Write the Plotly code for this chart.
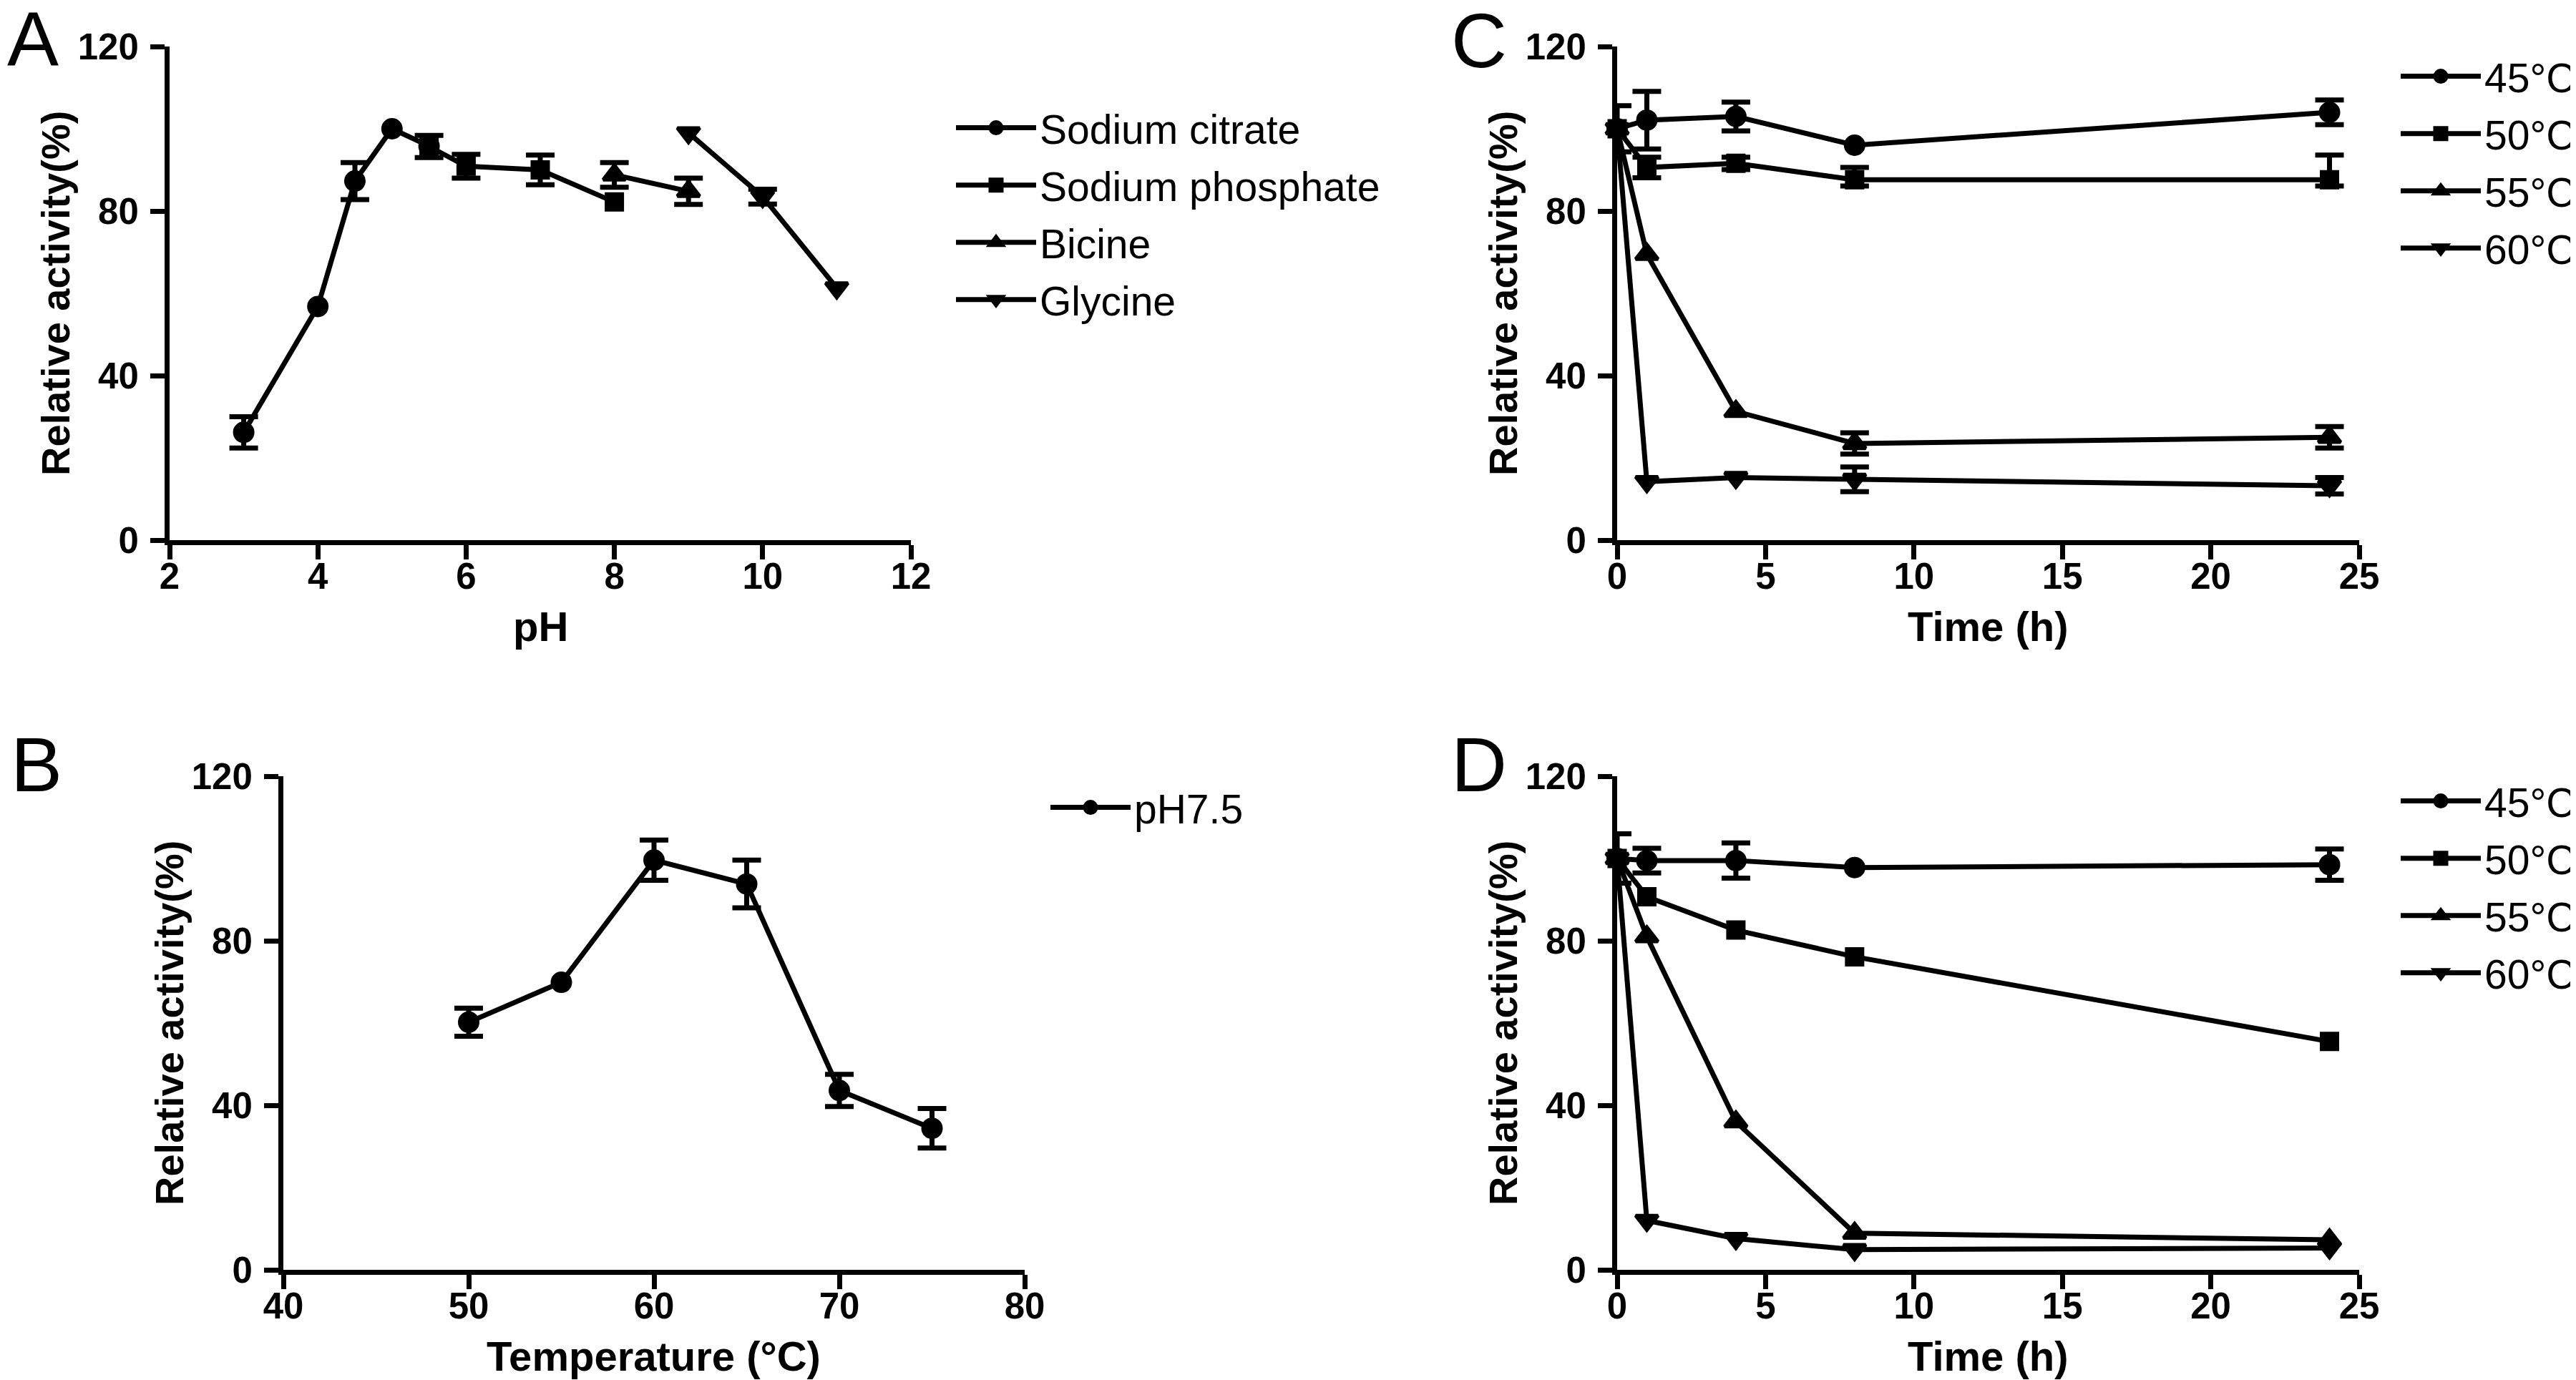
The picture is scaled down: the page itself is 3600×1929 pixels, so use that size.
import plotly.graph_objects as go

W, H = 3600, 1929

# ---------------- data ----------------
# Panel A: pH profile
ph_citrate_x = [3, 4, 4.5, 5, 5.5]
ph_citrate_y = [26.2, 56.8, 87.3, 100.0, 95.8]
ph_citrate_err = [3.8, 0, 4.5, 0, 0]
ph_phosphate_x = [5.5, 6, 7, 8]
ph_phosphate_y = [95.7, 90.9, 90.0, 82.2]
ph_phosphate_err = [2.7, 2.9, 3.6, 0]
ph_bicine_x = [8, 9]
ph_bicine_y = [88.8, 84.8]
ph_bicine_err = [3.0, 3.2]
ph_glycine_x = [9, 10, 11]
ph_glycine_y = [99.0, 83.5, 61.3]
ph_glycine_err = [0, 1.8, 0]

# Panel B: temperature profile
temp_x = [50, 55, 60, 65, 70, 75]
temp_y = [60.2, 69.9, 99.6, 93.8, 43.6, 34.4]
temp_err = [3.4, 0, 4.9, 5.8, 3.9, 4.8]

# Panels C / D: stability over time
time_h = [0, 1, 4, 8, 24]
c_45 = [100, 102.1, 103.0, 96.0, 104.0]
c_45_err = [5.6, 7.0, 3.5, 0, 3.0]
c_50 = [100, 90.6, 91.6, 87.6, 87.6]
c_50_err = [0, 2.5, 1.5, 3.0, 6.0]
c_50_err_minus = [0, 2.5, 1.5, 1.5, 1.5]
c_55 = [100, 69.5, 31.3, 23.5, 25.0]
c_55_err = [0, 0, 0, 2.6, 2.6]
c_60 = [100, 14.2, 15.2, 14.8, 13.2]
c_60_err = [0, 0, 0, 3.0, 2.0]

d_45 = [100, 99.5, 99.5, 97.8, 98.5]
d_45_err = [6.0, 3.0, 4.3, 0, 3.8]
d_50 = [100, 90.7, 82.6, 76.1, 55.5]
d_50_err = [0, 0, 0, 0, 0]
d_55 = [100, 81.0, 36.0, 8.9, 7.3]
d_55_err = [0, 0, 0, 0, 0]
d_60 = [100, 12.0, 7.6, 4.9, 5.3]
d_60_err = [0, 0, 0, 0, 0]

temp_labels = ["45°C", "50°C", "55°C", "60°C"]
y_ticks = [0, 40, 80, 120]

# ---------------- style ----------------
LW = 7
SANS = "Liberation Sans, Arial, sans-serif"
SYM = {"circle": 25, "square": 22, "triangle-up": 27, "triangle-down": 27}

fig = go.Figure()


def add_series(x, y, err, symbol, name, xa, ya, legend, err_minus=None):
    if err_minus is None:
        err_minus = err
    keep = [i for i, e in enumerate(err) if e > 0]
    if keep:
        fig.add_trace(go.Scatter(
            x=[x[i] for i in keep], y=[y[i] for i in keep], mode="markers",
            xaxis=xa, yaxis=ya,
            marker=dict(size=2, color="rgba(0,0,0,0)"),
            error_y=dict(type="data", array=[err[i] for i in keep],
                         arrayminus=[err_minus[i] for i in keep], symmetric=False,
                         visible=True, color="black", thickness=LW, width=20),
            showlegend=False, hoverinfo="skip", cliponaxis=False))
    fig.add_trace(go.Scatter(
        x=x, y=y, mode="lines+markers", name=name, xaxis=xa, yaxis=ya,
        line=dict(color="black", width=LW),
        marker=dict(symbol=symbol, size=SYM[symbol], color="black",
                    line=dict(color="black", width=5)),
        legend=legend, legendgroup=legend + name, cliponaxis=False))


add_series(ph_citrate_x, ph_citrate_y, ph_citrate_err, "circle", "Sodium citrate", "x", "y", "legend")
add_series(ph_phosphate_x, ph_phosphate_y, ph_phosphate_err, "square", "Sodium phosphate", "x", "y", "legend")
add_series(ph_bicine_x, ph_bicine_y, ph_bicine_err, "triangle-up", "Bicine", "x", "y", "legend")
add_series(ph_glycine_x, ph_glycine_y, ph_glycine_err, "triangle-down", "Glycine", "x", "y", "legend")

add_series(temp_x, temp_y, temp_err, "circle", "pH7.5", "x2", "y2", "legend2")

symbols = ["circle", "square", "triangle-up", "triangle-down"]
c_minus = [c_45_err, c_50_err_minus, c_55_err, c_60_err]
for lab, yy, ee, em, s in zip(temp_labels, [c_45, c_50, c_55, c_60],
                              [c_45_err, c_50_err, c_55_err, c_60_err], c_minus, symbols):
    add_series(time_h, yy, ee, s, lab, "x3", "y3", "legend3", err_minus=em)
for lab, yy, ee, s in zip(temp_labels, [d_45, d_50, d_55, d_60],
                          [d_45_err, d_50_err, d_55_err, d_60_err], symbols):
    add_series(time_h, yy, ee, s, lab, "x4", "y4", "legend4")


def px_x(p):
    return p / W


def px_y(p):
    return 1 - p / H


tickfont = dict(family=SANS, size=51, color="black", weight="bold")
axis_common = dict(showline=True, linewidth=LW, linecolor="black", ticks="outside",
                   ticklen=20, tickwidth=LW, tickcolor="black", showgrid=False,
                   zeroline=False, tickfont=tickfont, fixedrange=True)

# pixel boxes of each panel (left, right, top, bottom)
boxes = {
    "A": (229, 1265, 57, 747),
    "B": (388, 1424, 1077, 1767),
    "C": (2252, 3289, 57, 747),
    "D": (2252, 3289, 1077, 1767),
}

x_specs = {
    "A": dict(range=[2, 12], tickvals=[2, 4, 6, 8, 10, 12]),
    "B": dict(range=[40, 80], tickvals=[40, 50, 60, 70, 80]),
    "C": dict(range=[0, 25], tickvals=[0, 5, 10, 15, 20, 25]),
    "D": dict(range=[0, 25], tickvals=[0, 5, 10, 15, 20, 25]),
}
suffix = {"A": "", "B": "2", "C": "3", "D": "4"}
x_titles = {"A": "pH", "B": "Temperature (°C)", "C": "Time (h)", "D": "Time (h)"}

layout = dict(width=W, height=H, margin=dict(l=0, r=0, t=0, b=0),
              paper_bgcolor="white", plot_bgcolor="white", template="none",
              showlegend=True)
annotations = []
for k, (l, r, t, b) in boxes.items():
    s = suffix[k]
    layout["xaxis" + s] = dict(domain=[px_x(l), px_x(r)], anchor="y" + s,
                               ticklabelstandoff=-20,
                               **x_specs[k], **axis_common)
    layout["yaxis" + s] = dict(domain=[px_y(b), px_y(t)], anchor="x" + s,
                               ticklabelstandoff=6,
                               range=[0, 120], tickvals=y_ticks, **axis_common)
    # y title
    annotations.append(dict(text="Relative activity(%)", xref="paper", yref="paper",
                            x=px_x(l - 160), y=px_y((t + b) / 2), textangle=-90,
                            xanchor="center", yanchor="middle", showarrow=False,
                            font=dict(family=SANS, size=56, color="black", weight="bold")))
    # x title
    annotations.append(dict(text=x_titles[k], xref="paper", yref="paper",
                            x=px_x((l + r) / 2), y=px_y(b + 86),
                            xanchor="center", yanchor="top", showarrow=False,
                            font=dict(family=SANS, size=58, color="black", weight="bold")))

letters = [("A", 0, 46, "left"), ("B", 5, 1060, "left"),
           ("C", 2100, 48, "right"), ("D", 2100, 1060, "right")]
for txt, xx, yy, anc in letters:
    annotations.append(dict(text=txt, xref="paper", yref="paper", x=px_x(xx), y=px_y(yy),
                            xanchor=anc, yanchor="middle", showarrow=False,
                            font=dict(family=SANS, size=108, color="black")))
layout["annotations"] = annotations

leg_common = dict(font=dict(family=SANS, size=57, color="black"), bgcolor="rgba(0,0,0,0)",
                  borderwidth=0, itemwidth=112, xanchor="left", yanchor="top",
                  traceorder="grouped", tracegroupgap=3,
                  itemclick=False, itemdoubleclick=False)
layout["legend"] = dict(x=px_x(1323), y=px_y(127), **leg_common)
layout["legend2"] = dict(x=px_x(1455), y=px_y(1077), **leg_common)
layout["legend3"] = dict(x=px_x(3342), y=px_y(55), **leg_common)
layout["legend4"] = dict(x=px_x(3342), y=px_y(1068), **leg_common)

fig.update_layout(**layout)
fig.write_html("out.html")
